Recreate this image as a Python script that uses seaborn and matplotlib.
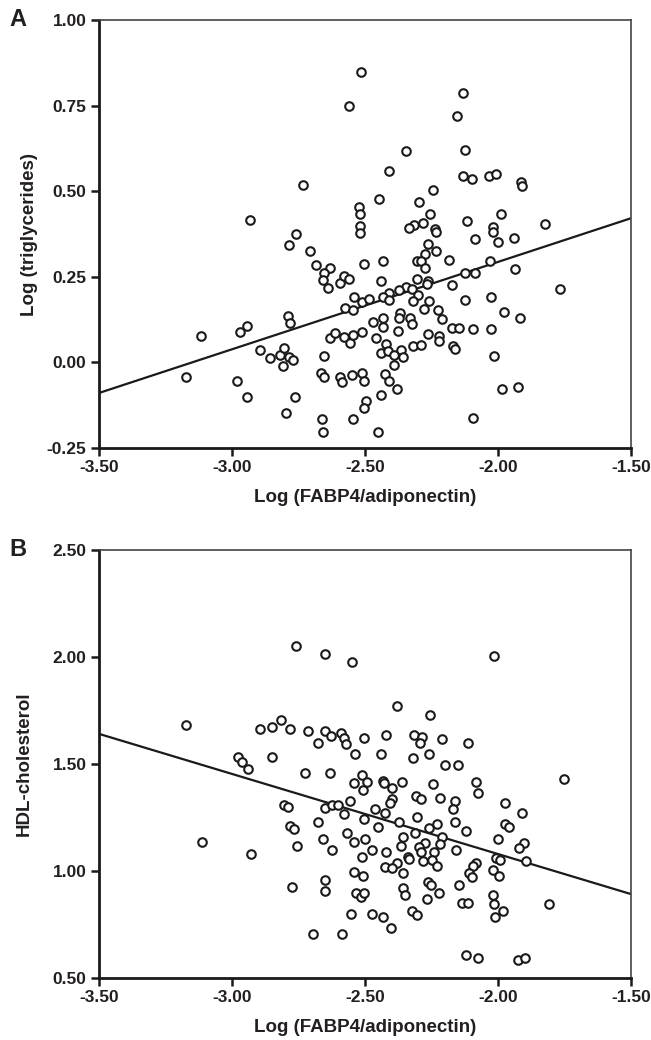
import matplotlib
matplotlib.use("Agg")
import matplotlib.pyplot as plt
import seaborn as sns
import numpy as np
import pandas as pd

# ---------------- data ----------------
# Panel A: Log(FABP4/adiponectin) vs Log(triglycerides)
a_x = [-2.514, -2.561, -2.733, -2.932, -2.524, -2.520, -2.518, -2.759, -2.518,
       -2.133, -2.155, -2.346, -2.123, -2.411, -2.133, -2.099, -2.033, -2.009, -1.914,
       -1.911, -2.243, -2.447, -2.298, -2.254, -1.989, -1.822, -2.116, -2.283, -2.315,
       -2.335, -2.237, -2.233, -2.020, -2.018,
       -2.785, -2.706, -2.686, -2.630, -2.655, -2.658, -2.640, -2.595, -2.580, -2.561,
       -2.505, -2.540, -2.574, -2.545, -2.511, -2.791, -2.783, -2.945, -2.969, -3.115,
       -2.896, -2.856, -2.821, -2.805, -2.787, -2.771, -2.809, -2.633, -2.612, -2.578,
       -2.555, -2.545, -2.511, -2.653, -3.174, -2.980, -2.944, -2.763, -2.796, -2.665,
       -2.653, -2.595, -2.585, -2.548, -2.511, -2.505, -2.661, -2.658, -2.545, -2.495,
       -2.503,
       -2.086, -1.999, -1.939, -2.265, -2.233, -2.274, -2.306, -2.289, -2.431, -2.183,
       -2.274, -2.030, -1.936, -2.124, -2.086, -2.303, -2.262, -2.268, -2.441, -2.174,
       -2.346, -2.324, -2.371, -2.409, -2.300, -2.433, -2.409, -2.484, -2.318, -2.258,
       -2.277, -2.124, -2.028, -1.767, -2.227, -2.212, -2.368, -2.371, -2.331, -2.324,
       -2.433, -2.469, -2.433, -1.976, -1.916, -2.174, -2.147, -2.095, -2.028, -2.375,
       -2.262, -2.222, -2.221, -2.459, -2.421, -2.318, -2.291, -2.171, -2.162, -2.441,
       -2.412, -2.366, -2.390, -2.358, -2.390, -2.014, -2.425, -2.409, -2.381, -2.440,
       -1.986, -1.923, -2.093, -2.450]
a_y = [0.847, 0.749, 0.519, 0.417, 0.453, 0.432, 0.398, 0.376, 0.377,
       0.788, 0.720, 0.617, 0.619, 0.560, 0.544, 0.535, 0.543, 0.550, 0.527,
       0.515, 0.504, 0.478, 0.469, 0.432, 0.432, 0.404, 0.412, 0.408, 0.400,
       0.392, 0.390, 0.380, 0.395, 0.380,
       0.342, 0.324, 0.285, 0.276, 0.261, 0.241, 0.218, 0.232, 0.252, 0.243,
       0.286, 0.190, 0.158, 0.153, 0.175, 0.136, 0.114, 0.106, 0.090, 0.078,
       0.037, 0.013, 0.022, 0.041, 0.015, 0.007, -0.010, 0.071, 0.085, 0.073,
       0.058, 0.081, 0.090, 0.018, -0.044, -0.054, -0.100, -0.100, -0.147, -0.030,
       -0.044, -0.042, -0.056, -0.038, -0.030, -0.054, -0.164, -0.203, -0.164, -0.112,
       -0.134,
       0.361, 0.351, 0.364, 0.346, 0.324, 0.317, 0.297, 0.297, 0.297, 0.299,
       0.275, 0.295, 0.273, 0.260, 0.260, 0.244, 0.237, 0.229, 0.237, 0.226,
       0.221, 0.215, 0.210, 0.202, 0.198, 0.190, 0.182, 0.185, 0.180, 0.180,
       0.156, 0.183, 0.192, 0.213, 0.153, 0.127, 0.143, 0.130, 0.130, 0.112,
       0.130, 0.117, 0.104, 0.148, 0.129, 0.100, 0.100, 0.099, 0.099, 0.092,
       0.083, 0.076, 0.063, 0.071, 0.055, 0.047, 0.051, 0.049, 0.039, 0.026,
       0.032, 0.037, 0.022, 0.016, -0.007, 0.018, -0.034, -0.054, -0.078, -0.095,
       -0.078, -0.073, -0.163, -0.203]

# Panel B: Log(FABP4/adiponectin) vs HDL-cholesterol
b_x = [-2.758, -2.652, -2.549, -3.172, -2.894, -2.850, -2.816, -2.783, -2.716, -2.649,
       -2.628, -2.678, -2.589, -2.578, -2.570, -2.505, -2.536, -2.979, -2.850,
       -2.014, -2.379, -2.255, -2.422, -2.315, -2.287, -2.293, -2.209, -2.114, -2.441,
       -2.321, -2.258, -2.199, -2.149,
       -2.963, -2.941, -2.727, -2.630, -2.511, -2.540, -2.508, -2.558, -2.803, -2.791,
       -2.649, -2.624, -2.603, -2.578, -2.505, -2.678, -2.783, -2.766, -2.756, -3.112,
       -2.929, -2.658, -2.624, -2.568, -2.540, -2.499, -2.511, -2.540, -2.508, -2.776,
       -2.652, -2.652, -2.533, -2.515, -2.505, -2.553, -2.697, -2.586,
       -1.752, -2.494, -2.434, -2.429, -2.400, -2.360, -2.246, -2.083, -2.074, -2.308,
       -2.291, -2.218, -2.162, -2.168, -2.400, -2.406, -1.974, -1.908, -2.462, -2.425,
       -2.450, -2.371, -2.306, -2.162, -2.228, -2.258, -1.974, -1.958, -2.120, -2.312,
       -2.356, -2.212, -1.999, -2.366, -2.274, -2.296, -2.218, -1.902, -1.920, -2.475,
       -2.421, -2.158, -2.291, -2.241, -2.337, -2.333, -2.281, -2.249, -2.231, -2.381,
       -2.425, -2.397, -2.008, -1.992, -1.895, -2.083, -2.093, -2.108, -2.099, -2.018,
       -1.995, -2.359, -2.265, -2.253, -2.145, -2.359, -2.350, -2.221, -2.018, -2.266,
       -2.137, -2.112, -2.014, -1.983, -2.011, -1.807, -2.325, -2.306, -2.475, -2.431,
       -2.402, -2.120, -2.074, -1.924, -1.898]
b_y = [2.053, 2.014, 1.975, 1.682, 1.665, 1.673, 1.704, 1.665, 1.656, 1.656,
       1.629, 1.598, 1.645, 1.621, 1.595, 1.621, 1.548, 1.531, 1.531,
       2.003, 1.773, 1.730, 1.637, 1.637, 1.628, 1.598, 1.618, 1.597, 1.548,
       1.528, 1.548, 1.494, 1.497,
       1.510, 1.475, 1.458, 1.459, 1.449, 1.410, 1.379, 1.327, 1.308, 1.298,
       1.296, 1.308, 1.308, 1.266, 1.242, 1.228, 1.212, 1.196, 1.117, 1.137,
       1.078, 1.148, 1.098, 1.179, 1.137, 1.148, 1.067, 0.997, 0.977, 0.927,
       0.958, 0.907, 0.896, 0.880, 0.898, 0.798, 0.706, 0.706,
       1.430, 1.417, 1.422, 1.410, 1.386, 1.417, 1.407, 1.417, 1.366, 1.350,
       1.335, 1.340, 1.328, 1.290, 1.335, 1.316, 1.319, 1.270, 1.288, 1.270,
       1.207, 1.230, 1.251, 1.230, 1.220, 1.200, 1.220, 1.207, 1.188, 1.176,
       1.157, 1.160, 1.148, 1.117, 1.129, 1.111, 1.126, 1.129, 1.106, 1.098,
       1.090, 1.098, 1.090, 1.090, 1.067, 1.055, 1.048, 1.051, 1.023, 1.039,
       1.017, 1.012, 1.059, 1.051, 1.048, 1.036, 1.023, 0.989, 0.973, 1.005,
       0.977, 0.989, 0.950, 0.935, 0.935, 0.919, 0.888, 0.896, 0.888, 0.868,
       0.849, 0.852, 0.846, 0.815, 0.787, 0.846, 0.815, 0.794, 0.798, 0.787,
       0.734, 0.607, 0.595, 0.584, 0.595]

x_ticks = [-3.50, -3.00, -2.50, -2.00, -1.50]
a_yticks = [-0.25, 0.00, 0.25, 0.50, 0.75, 1.00]
b_yticks = [0.50, 1.00, 1.50, 2.00, 2.50]
x_label = "Log (FABP4/adiponectin)"
a_ylabel = "Log (triglycerides)"
b_ylabel = "HDL-cholesterol"

# ---------------- style ----------------
sns.set_theme(style="white")
plt.rcParams['font.family'] = ['Liberation Sans', 'DejaVu Sans']
TXT = '#231f20'

fig = plt.figure(figsize=(6.51, 10.40), dpi=100)
axA = fig.add_axes([99/651, 1 - 448/1040, 532/651, 428/1040])
axB = fig.add_axes([99/651, 1 - 978/1040, 532/651, 428/1040])

panels = [
    (axA, a_x, a_y, a_yticks, a_ylabel, "A", 6),
    (axB, b_x, b_y, b_yticks, b_ylabel, "B", 14),
]

for ax, xs, ys, yt, ylab, tag, ypad in panels:
    df = pd.DataFrame({"x": xs, "y": ys})
    ax.set_xlim(x_ticks[0], x_ticks[-1])
    ax.set_ylim(yt[0], yt[-1])
    sns.regplot(data=df, x="x", y="y", ax=ax, ci=None, truncate=False,
                scatter=False, line_kws=dict(color='#1a1a1a', lw=1.6))
    sns.scatterplot(data=df, x="x", y="y", ax=ax, marker='o', s=38,
                    facecolor='white', edgecolor='#1a1a1a', linewidth=1.5,
                    zorder=3)
    ax.set_xlim(x_ticks[0], x_ticks[-1])
    ax.set_ylim(yt[0], yt[-1])
    ax.set_xticks(x_ticks)
    ax.set_xticklabels([f"{v:.2f}" for v in x_ticks])
    ax.set_yticks(yt)
    ax.set_yticklabels([f"{v:.2f}" for v in yt])
    ax.tick_params(axis='both', direction='out', length=6, width=1.8,
                   color='#1a1a1a', labelsize=12.5, labelcolor=TXT, pad=3,
                   left=True, bottom=True)
    for lab in ax.get_xticklabels() + ax.get_yticklabels():
        lab.set_fontweight('bold')
    for side in ['left', 'bottom']:
        ax.spines[side].set_linewidth(2.0)
        ax.spines[side].set_color('#1a1a1a')
    for side in ['top', 'right']:
        ax.spines[side].set_linewidth(1.2)
        ax.spines[side].set_color('#444444')
    ax.set_xlabel(x_label, fontsize=13.5, fontweight='bold', color=TXT, labelpad=10)
    ax.set_ylabel(ylab, fontsize=13.5, fontweight='bold', color=TXT, labelpad=ypad)
    ax.text(-0.168, 1.0, tag, transform=ax.transAxes, fontsize=17,
            fontweight='bold', color=TXT, ha='left', va='center')
    ax.grid(False)

fig.savefig("out.png", dpi=100)
